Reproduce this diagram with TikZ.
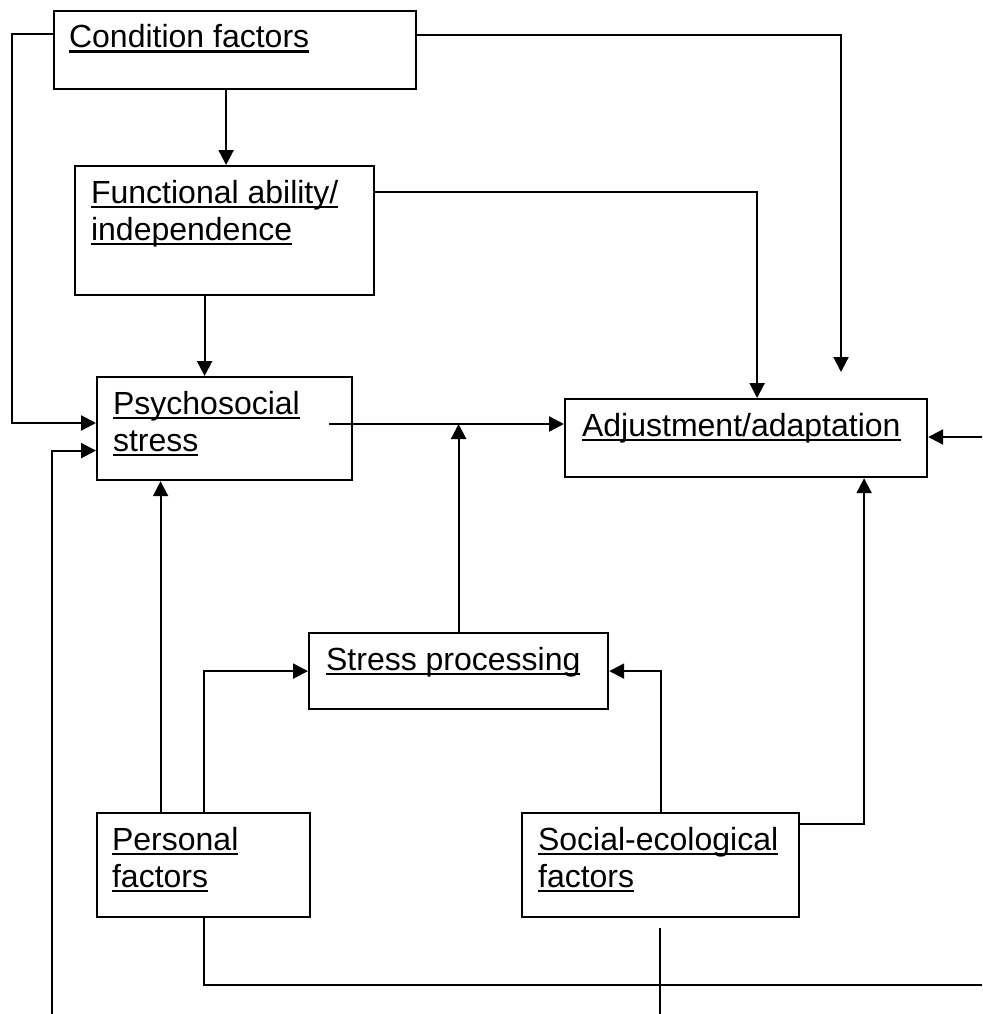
\documentclass[tikz,border=0pt]{standalone}
\usepackage{fontspec}
\setmainfont{Liberation Sans}
\usetikzlibrary{positioning,arrows.meta,calc}
\newcommand\uln[1]{\setbox0\hbox{#1}\rlap{\rule[-5pt]{\wd0}{2.5pt}}\box0}

\begin{document}
\begin{tikzpicture}[x=1pt,y=-1pt,>={Triangle[length=15pt,width=15pt]},line width=2.2pt,
    box/.style={draw,rectangle,inner sep=0pt,anchor=north west},
    lbl/.style={inner sep=0pt,anchor=base west,align=left,font=\fontsize{32}{37}\selectfont}]
  \useasboundingbox (0,0) rectangle (982,1014);
  % boxes
  \node[box,minimum width=362pt,minimum height=78pt] (cond) at (53,10) {};
  \node[box,minimum width=299pt,minimum height=129pt] (fa) at (74,165) {};
  \node[box,minimum width=255pt,minimum height=103pt] (psy) at (96,376) {};
  \node[box,minimum width=362pt,minimum height=78pt] (adj) at (564,398) {};
  \node[box,minimum width=299pt,minimum height=76pt] (sp) at (308,632) {};
  \node[box,minimum width=213pt,minimum height=104pt] (pf) at (96,812) {};
  \node[box,minimum width=277pt,minimum height=104pt] (sfac) at (521,812) {};
  % labels (base = last line)
  \node[lbl] (cond-t) at ([shift={(15pt,-38pt)}]cond.north west) {\uln{Condition factors}};
  \node[lbl] (fa-t) at ([shift={(16pt,-75pt)}]fa.north west) {\uln{Functional ability/}\\\uln{independence}};
  \node[lbl] (psy-t) at ([shift={(16pt,-75pt)}]psy.north west) {\uln{Psychosocial}\\\uln{stress}};
  \node[lbl] (adj-t) at ([shift={(17pt,-38pt)}]adj.north west) {\uln{Adjustment/adaptation}};
  \node[lbl] (sp-t) at ([shift={(17pt,-38pt)}]sp.north west) {\uln{Stress processing}};
  \node[lbl] (pf-t) at ([shift={(15pt,-75pt)}]pf.north west) {\uln{Personal}\\\uln{factors}};
  \node[lbl] (sfac-t) at ([shift={(16pt,-75pt)}]sfac.north west) {\uln{Social-ecological}\\\uln{factors}};
  % free ends
  \coordinate (lft) at (12,423);
  \coordinate (ctip) at (841,372);
  \coordinate (ps-out) at (329,424);
  \coordinate (bl) at (52,1014);
  \coordinate (rin) at (982,437);
  \coordinate (br) at (982,985);
  \coordinate (sb1) at (660,928);
  \coordinate (sb2) at (660,1014);
  % connectors
  \draw[->] ([yshift=-24pt]cond.north west) -| (lft) -- (lft -| psy.west);
  \draw[->] ([yshift=-25pt]cond.north east) -| (ctip);
  \draw[->] ([xshift=-9pt]cond.south) -- ([xshift=-9pt]cond.south |- fa.north);
  \draw[->] ([yshift=-27pt]fa.north east) -| ([xshift=11pt]adj.north);
  \draw[->] ([xshift=-20pt]fa.south) -- ([xshift=-20pt]fa.south |- psy.north);
  \draw[->] (ps-out) -- (ps-out -| adj.west);
  \draw[->] (sp.north) -- (sp.north |- ps-out);
  \draw[->] (bl) |- ([yshift=-22pt]psy.west);
  \draw[->] ([xshift=-43pt]pf.north) -- ([xshift=-43pt]pf.north |- psy.south);
  \draw[->] (pf.north) |- (sp.west);
  \draw[->] (sfac.north) |- (sp.east);
  \draw[->] ([yshift=-12pt]sfac.north east) -| ([xshift=118pt]adj.south);
  \draw[->] (rin) -- (rin -| adj.east);
  \draw (pf.south) |- (br);
  \draw (sb1) -- (sb2);
\end{tikzpicture}
\end{document}
